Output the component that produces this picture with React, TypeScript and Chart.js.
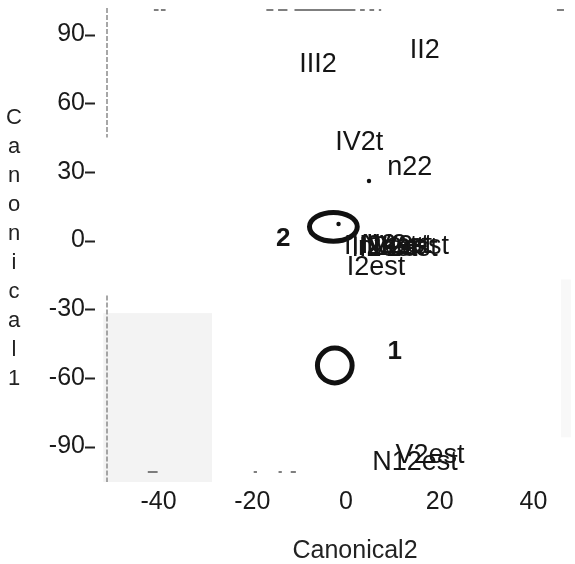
import React, { useEffect, useRef } from "react";
import { Chart, registerables } from "chart.js";

Chart.register(...registerables);

const FONT = '"Liberation Sans", Arial, Helvetica, sans-serif';

// axis ranges and ticks
const xRange = [-51, 48];
const yRange = [-105.5, 101.6];
const xTicks = [-40, -20, 0, 20, 40];
const yTicks = [-90, -60, -30, 0, 30, 60, 90];
const xTitle = "Canonical2";
const yTitle = "Canonical1";

// observation labels (centre of each label in data units)
const pointLabels = [
  "III2", "II2", "IV2t", "n22",
  "III2est", "II2est", "N2est", "n2est", "IV2est", "V2est", "IV2et",
  "I2est", "N12est", "V2est",
];
const pointX = [
  -6.0, 16.8, 2.8, 13.6,
  7.4, 8.2, 10.8, 9.6, 13.8, 12.2, 11.0,
  6.4, 14.7, 17.9,
];
const pointY = [
  76.7, 82.8, 42.6, 32.1,
  -2.6, -3.4, -2.2, -3.0, -2.8, -3.4, -2.0,
  -11.6, -97.2, -94.1,
];

// small point markers
const dotX = [4.9, -1.6];
const dotY = [26.0, 7.2];

// group means with confidence ellipses
const groupNames = ["1", "2"];
const meanX = [-2.4, -2.7];
const meanY = [-54.6, 6.0];
const radiusX = [3.7, 5.1];
const radiusY = [7.6, 6.3];
const groupLabelX = [10.4, -13.4];
const groupLabelY = [-48.5, 0.9];

// faint scan shading region (data units)
const shadeX = [-51.8, -28.6];
const shadeY = [-105.5, -31.7];

const decoPlugin = {
  id: "deco",
  beforeDatasetsDraw(chart: any) {
    const { ctx, chartArea, scales } = chart;
    const xs = scales.x;
    const ys = scales.y;
    ctx.save();
    // faint shading
    ctx.fillStyle = "#f3f3f3";
    const sx0 = xs.getPixelForValue(shadeX[0]);
    const sx1 = xs.getPixelForValue(shadeX[1]);
    const sy0 = ys.getPixelForValue(shadeY[1]);
    const sy1 = ys.getPixelForValue(shadeY[0]);
    ctx.fillRect(sx0, sy0, sx1 - sx0, sy1 - sy0);
    ctx.fillStyle = "#f8f8f8";
    ctx.fillRect(chartArea.right - 10, ys.getPixelForValue(-17), 10, ys.getPixelForValue(-86) - ys.getPixelForValue(-17));

    // broken y axis line
    ctx.strokeStyle = "#8a8a8a";
    ctx.lineWidth = 1.5;
    ctx.setLineDash([5, 2]);
    ctx.beginPath();
    ctx.moveTo(chartArea.left, chartArea.top);
    ctx.lineTo(chartArea.left, ys.getPixelForValue(45));
    ctx.moveTo(chartArea.left, ys.getPixelForValue(-24));
    ctx.lineTo(chartArea.left, chartArea.bottom);
    ctx.stroke();
    ctx.setLineDash([]);

    // y tick marks (detached from axis)
    ctx.strokeStyle = "#222";
    ctx.lineWidth = 2;
    ctx.beginPath();
    for (const v of yTicks) {
      const py = Math.round(ys.getPixelForValue(v)) + 0.5;
      ctx.moveTo(chartArea.left - 22, py);
      ctx.lineTo(chartArea.left - 12, py);
    }
    ctx.stroke();

    // scan dashes along top and bottom edges
    ctx.strokeStyle = "#555";
    ctx.lineWidth = 1.5;
    const topDash = [[-41, -40], [-39.5, -38.5], [-17, -15.5], [-14.5, -12.5], [-11, 2], [3, 4], [5, 6], [7, 7.5], [45, 46.5]];
    ctx.beginPath();
    for (const [a, b] of topDash) {
      ctx.moveTo(xs.getPixelForValue(a), chartArea.top + 2);
      ctx.lineTo(xs.getPixelForValue(b), chartArea.top + 2);
    }
    const botDash = [[-42.3, -40.2], [-19.7, -19], [-14.4, -13.7], [-11.8, -10.7]];
    for (const [a, b] of botDash) {
      ctx.moveTo(xs.getPixelForValue(a), chartArea.bottom - 10);
      ctx.lineTo(xs.getPixelForValue(b), chartArea.bottom - 10);
    }
    ctx.stroke();
    ctx.restore();
  },
  afterDatasetsDraw(chart: any) {
    const { ctx, chartArea, scales } = chart;
    const xs = scales.x;
    const ys = scales.y;
    ctx.save();
    // confidence ellipses
    ctx.strokeStyle = "#111";
    ctx.lineWidth = 5;
    for (let i = 0; i < meanX.length; i++) {
      const cx = xs.getPixelForValue(meanX[i]);
      const cy = ys.getPixelForValue(meanY[i]);
      const rx = Math.abs(xs.getPixelForValue(meanX[i] + radiusX[i]) - cx);
      const ry = Math.abs(ys.getPixelForValue(meanY[i] + radiusY[i]) - cy);
      ctx.beginPath();
      ctx.ellipse(cx, cy, rx, ry, 0, 0, Math.PI * 2);
      ctx.stroke();
    }
    // observation labels
    const meta = chart.getDatasetMeta(0);
    ctx.fillStyle = "#151515";
    ctx.font = `27px ${FONT}`;
    ctx.textAlign = "center";
    ctx.textBaseline = "middle";
    meta.data.forEach((el: any, i: number) => {
      ctx.fillText(pointLabels[i], el.x, el.y);
    });
    // group labels
    const gmeta = chart.getDatasetMeta(2);
    ctx.font = `bold 26px ${FONT}`;
    gmeta.data.forEach((el: any, i: number) => {
      ctx.fillText(groupNames[i], el.x, el.y);
    });
    // axis titles
    ctx.font = `25px ${FONT}`;
    ctx.fillStyle = "#222";
    ctx.fillText(xTitle, (chartArea.left + chartArea.right) / 2 + 16, chart.height - 13);
    ctx.font = `22px ${FONT}`;
    const letters = yTitle.split("");
    letters.forEach((ch, i) => {
      ctx.fillText(ch, 14, 118 + i * 29);
    });
    ctx.restore();
  },
};

export default function App() {
  const ref = useRef<HTMLCanvasElement | null>(null);
  useEffect(() => {
    if (!ref.current) return;
    const chart = new Chart(ref.current, {
      type: "scatter",
      data: {
        datasets: [
          {
            data: pointX.map((x, i) => ({ x, y: pointY[i] })),
            pointRadius: 0,
            pointHoverRadius: 0,
          },
          {
            data: dotX.map((x, i) => ({ x, y: dotY[i] })),
            pointRadius: 2.2,
            backgroundColor: "#111",
            borderWidth: 0,
          },
          {
            data: groupLabelX.map((x, i) => ({ x, y: groupLabelY[i] })),
            pointRadius: 0,
            pointHoverRadius: 0,
          },
        ],
      },
      options: {
        animation: false,
        responsive: false,
        maintainAspectRatio: false,
        layout: { padding: { top: 8, right: 0, left: 0, bottom: 0 } },
        plugins: { legend: { display: false }, tooltip: { enabled: false } },
        scales: {
          x: {
            type: "linear",
            min: xRange[0],
            max: xRange[1],
            afterBuildTicks: (s: any) => {
              s.ticks = xTicks.map((v) => ({ value: v }));
            },
            afterFit: (s: any) => {
              s.height = 82;
              s.paddingLeft = 0;
              s.paddingRight = 0;
              s.paddingTop = 0;
              s.paddingBottom = 0;
            },
            grid: { display: false, drawTicks: false },
            border: { display: false },
            ticks: {
              font: { size: 25, family: FONT },
              color: "#1a1a1a",
              padding: 5,
              maxRotation: 0,
              autoSkip: false,
            },
          },
          y: {
            type: "linear",
            min: yRange[0],
            max: yRange[1],
            afterBuildTicks: (s: any) => {
              s.ticks = yTicks.map((v) => ({ value: v }));
            },
            afterFit: (s: any) => {
              s.width = 107;
              s.paddingTop = 0;
              s.paddingBottom = 0;
              s.paddingLeft = 0;
              s.paddingRight = 0;
            },
            grid: { display: false, drawTicks: false },
            border: { display: false },
            ticks: {
              font: { size: 25, family: FONT },
              color: "#1a1a1a",
              padding: 22,
              autoSkip: false,
            },
          },
        },
      },
      plugins: [decoPlugin],
    });
    return () => chart.destroy();
  }, []);
  return (
    <div style={{ position: "absolute", left: 0, top: 0, width: 575, height: 564, background: "#fff" }}>
      <canvas ref={ref} width={575} height={564} style={{ display: "block" }} />
    </div>
  );
}
